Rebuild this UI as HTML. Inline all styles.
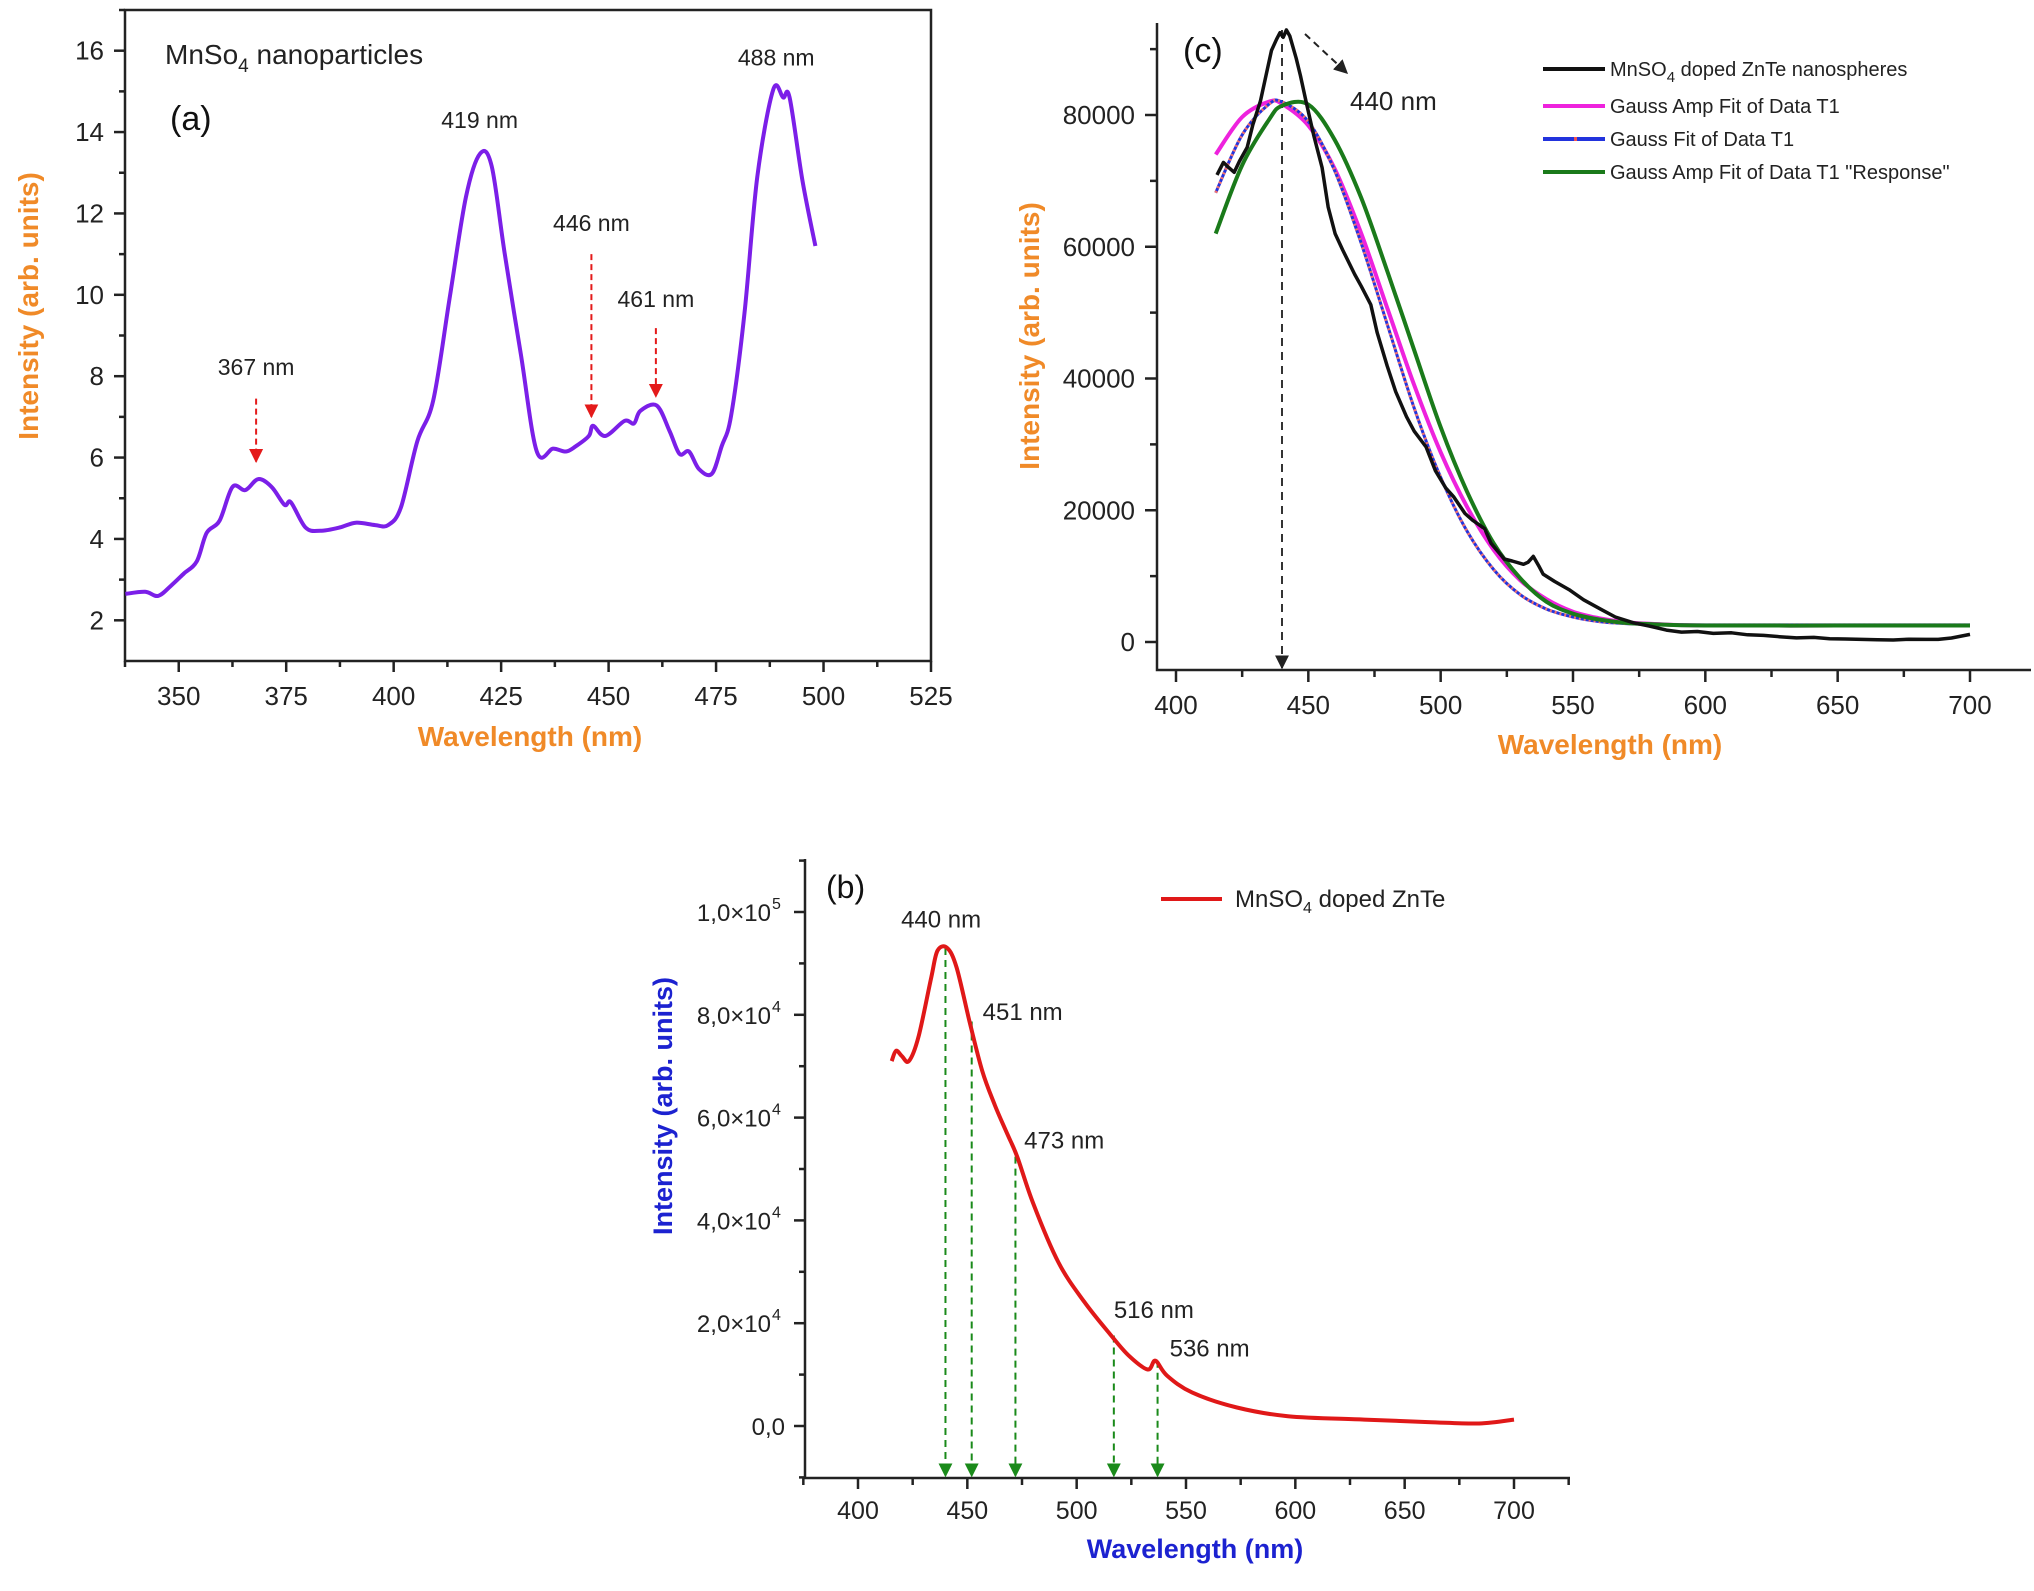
<!DOCTYPE html>
<html><head><meta charset="utf-8">
<style>
html,body{margin:0;padding:0;background:#fff;}
svg{display:block;font-family:"Liberation Sans",Arial,sans-serif;}
</style></head>
<body>
<svg id="fig" width="2034" height="1591" viewBox="0 0 2034 1591" xmlns="http://www.w3.org/2000/svg">
<rect width="2034" height="1591" fill="#fff"/>
<defs>
<marker id="arrRed" viewBox="0 0 10 10" refX="9" refY="5" markerWidth="7" markerHeight="9" orient="auto"><path d="M0,0 L10,5 L0,10 z" fill="#e41a1a"/></marker>
<marker id="arrGreen" viewBox="0 0 10 10" refX="9" refY="5" markerWidth="7" markerHeight="9" orient="auto"><path d="M0,0 L10,5 L0,10 z" fill="#1a8a1a"/></marker>
<marker id="arrBlack" viewBox="0 0 10 10" refX="9" refY="5" markerWidth="7" markerHeight="9" orient="auto"><path d="M0,0 L10,5 L0,10 z" fill="#222"/></marker>
</defs>
<g id="panelA"></g>
<g id="panelC"></g>
<g id="panelB"></g>
</svg>
<script>
// ---------- Panel (a) data ----------
const aWavelengths=[337.6,342.2,345.2,348.2,351.2,354.2,356.5,359.5,362.5,365.5,368.5,371.6,374.6,376.1,379.5,382.9,387.4,391.2,395.7,398.7,401.7,405.5,409.2,413,416.8,420.1,422.8,425.8,429.6,433.3,437.1,440.1,442.4,445.4,446.4,449.2,453.7,455.9,457.4,461.2,464.2,466.5,468.7,471,474,476.3,478.5,481.6,484.6,488.3,490.6,492.1,495.1,498.1];
const aIntensity=[2.65,2.7,2.6,2.85,3.15,3.45,4.15,4.45,5.28,5.2,5.47,5.28,4.84,4.9,4.28,4.2,4.28,4.4,4.34,4.34,4.78,6.4,7.4,9.9,12.4,13.47,13.16,11.03,8.53,6.15,6.22,6.15,6.28,6.53,6.78,6.53,6.9,6.84,7.15,7.28,6.65,6.09,6.15,5.72,5.6,6.28,7.03,9.53,12.9,15.04,14.85,14.85,12.8,11.2];
const aXTicks=[350,375,400,425,450,475,500,525];
const aYTicks=[2,4,6,8,10,12,14,16];
const aPeakLabels=["367 nm","419 nm","446 nm","461 nm","488 nm"];
const aPeakX=[368,420,446,461,489];
const aPeakY=[8.03,14.1,11.57,9.7,15.63];
const aArrowPeaks=[368,446,461];
const aArrowTop=[7.45,11.0,9.18];
const aArrowBottom=[5.9,7.0,7.5];

// ---------- Panel (c) data ----------
const cDataX=[415.5,417.9,420,422,424,426.9,429,431.9,434,436.1,438,439.3,440.5,441.7,443,445.4,447,449.1,452,455.2,457.5,460.1,463,467.5,470,473.6,476,479.8,483,487.1,490,494.5,498,501.9,505,509.2,512,516.6,519,524,527,531.3,533,535,537,538.7,543,548.5,554,560.8,566,573,579,585.3,591,597,603,609.9,616,622,628,634.4,641,647,653,659,665,671,677,683.5,688,693,700];
const cDataY=[70900,72800,72000,71300,73000,75100,78500,82100,86000,89800,91500,92500,91800,92900,92000,88600,86000,82100,77000,72000,66000,62000,59500,55800,54000,51200,47000,41900,38000,34200,32000,29600,26000,23400,22000,19500,18500,17200,15000,12600,12300,11800,12100,13000,11600,10300,9200,7950,6400,4900,3800,2900,2400,1800,1500,1600,1300,1400,1100,1000,800,620,700,500,450,390,350,300,420,390,400,600,1160];
const cFitX=[415,425,435,440,450,460,470,480,490,500,510,520,530,540,550,560,570,580,600,650,700];
const cMagentaY=[74000,79700,82000,81700,78400,71800,62000,50500,39000,28800,20500,14000,9400,6500,4600,3600,3000,2750,2500,2500,2500];
const cBlueY=[68200,77000,81600,82000,79000,71500,60500,48000,35500,25000,16800,11000,7200,5000,3800,3100,2800,2650,2600,2600,2600];
const cGreenY=[62000,72400,79200,81400,81600,76200,67400,56100,44300,32600,22800,15000,9700,6100,4300,3400,2900,2700,2500,2500,2500];
const cXTicks=[400,450,500,550,600,650,700];
const cYTicks=[0,20000,40000,60000,80000];
const cLegend=["MnSO4 doped ZnTe nanospheres","Gauss Amp Fit of Data T1","Gauss Fit of Data T1","Gauss Amp Fit of Data T1 \"Response\""];

// ---------- Panel (b) data ----------
const bDataX=[415.4,417.4,420,423.3,427.7,433.5,436.4,440.8,445.1,451,456.8,462.6,468.4,472.8,480.1,491.7,503.4,515,523.8,532.5,536,541.3,552.9,573.3,596.6,631.5,660.7,684,700];
const bDataY=[71000,73000,72000,71000,75800,87300,92500,93000,89200,78700,69100,62400,56700,52400,43300,31800,24200,18000,13700,11000,12700,9800,6500,3600,1900,1240,760,480,1240];
const bXTicks=[400,450,500,550,600,650,700];
const bYTicks=[0,20000,40000,60000,80000,100000];
const bYLabels=["0,0","2,0×10","4,0×10","6,0×10","8,0×10","1,0×10"];
const bYExp=["","4","4","4","4","5"];
const bPeaks=[440,452,472,517,537];
const bPeakVals=[93000,78700,52400,17600,12700];
const bPeakLabels=["440 nm","451 nm","473 nm","516 nm","536 nm"];
const bLabelX=[419.7,457,476,517,542.5];
const bLabelY=[97000,79000,54000,21000,13500];

const NS="http://www.w3.org/2000/svg";
function mk(parent,tag,attrs){const e=document.createElementNS(NS,tag);for(const k in attrs)e.setAttribute(k,attrs[k]);parent.appendChild(e);return e;}
function lin(d0,d1,r0,r1){return v=>r0+(v-d0)/(d1-d0)*(r1-r0);}
function smoothPath(xs,ys,sx,sy){
  const p=xs.map((x,i)=>[sx(x),sy(ys[i])]);
  let d="M"+p[0][0].toFixed(1)+","+p[0][1].toFixed(1);
  for(let i=0;i<p.length-1;i++){
    const p0=p[Math.max(0,i-1)],p1=p[i],p2=p[i+1],p3=p[Math.min(p.length-1,i+2)];
    const c1=[p1[0]+(p2[0]-p0[0])/6,p1[1]+(p2[1]-p0[1])/6];
    const c2=[p2[0]-(p3[0]-p1[0])/6,p2[1]-(p3[1]-p1[1])/6];
    d+=" C"+c1[0].toFixed(1)+","+c1[1].toFixed(1)+" "+c2[0].toFixed(1)+","+c2[1].toFixed(1)+" "+p2[0].toFixed(1)+","+p2[1].toFixed(1);
  }
  return d;
}
function polyPath(xs,ys,sx,sy){return xs.map((x,i)=>(i?"L":"M")+sx(x).toFixed(1)+","+sy(ys[i]).toFixed(1)).join(" ");}
const ORANGE="#f08a28", BLUEB="#1c22d0";

// ================= Panel A =================
(function(){
  const g=document.getElementById('panelA');
  const sx=lin(337.5,525,125,931), sy=lin(1,17,661,10);
  let e=mk(g,'rect',{x:125,y:10,width:806,height:651,fill:'none',stroke:'#222','stroke-width':2.5});
  
  aXTicks.forEach(t=>{
    const x=sx(t);
    let l=mk(g,'line',{x1:x,y1:661,x2:x,y2:672,stroke:'#222','stroke-width':2.5});
    
    let m=mk(g,'line',{x1:sx(t-12.5),y1:661,x2:sx(t-12.5),y2:667,stroke:'#222','stroke-width':2.5});
    
    let tx=mk(g,'text',{x:x,y:705,'font-size':26,'text-anchor':'middle',fill:'#222'});tx.textContent=t;
    
  });
  aYTicks.forEach(t=>{
    const y=sy(t);
    let l=mk(g,'line',{x1:114,y1:y,x2:125,y2:y,stroke:'#222','stroke-width':2.5});
    
    let m=mk(g,'line',{x1:119,y1:sy(t+1),x2:125,y2:sy(t+1),stroke:'#222','stroke-width':2.5});
    
    let tx=mk(g,'text',{x:104,y:y+9,'font-size':26,'text-anchor':'end',fill:'#222'});tx.textContent=t;
    
  });
  let p=mk(g,'path',{d:smoothPath(aWavelengths,aIntensity,sx,sy),fill:'none',stroke:'#7b1fe8','stroke-width':4,'stroke-linejoin':'round'});
  
  aArrowPeaks.forEach((w,i)=>{
    let a=mk(g,'line',{x1:sx(w),y1:sy(aArrowTop[i]),x2:sx(w),y2:sy(aArrowBottom[i]),stroke:'#e41a1a','stroke-width':2,'stroke-dasharray':'6,4','marker-end':'url(#arrRed)'});
    
  });
  aPeakLabels.forEach((s,i)=>{
    let t=mk(g,'text',{x:sx(aPeakX[i]),y:sy(aPeakY[i]),'font-size':23,'text-anchor':'middle',fill:'#222'});t.textContent=s;
    
  });
  let t1=mk(g,'text',{x:165,y:64,'font-size':28,fill:'#222'});
  t1.innerHTML='MnSo<tspan font-size="19" dy="8">4</tspan><tspan dy="-8"> nanoparticles</tspan>';
  
  let t2=mk(g,'text',{x:170,y:130,'font-size':34,fill:'#111'});t2.textContent='(a)';
  
  let xt=mk(g,'text',{x:530,y:746,'font-size':28,'font-weight':'bold','text-anchor':'middle',fill:ORANGE});xt.textContent='Wavelength (nm)';
  
  let yt=mk(g,'text',{x:0,y:0,'font-size':28,'font-weight':'bold','text-anchor':'middle',fill:ORANGE,transform:'translate(38,306) rotate(-90)'});yt.textContent='Intensity (arb. units)';
  
})();

// ================= Panel C =================
(function(){
  const g=document.getElementById('panelC');
  const sx=lin(400,700,1176,1970), sy=lin(0,80000,642,115);
  let ax=mk(g,'path',{d:'M1157,23 L1157,670 L2031,670',fill:'none',stroke:'#222','stroke-width':2.5});
  
  cXTicks.forEach(t=>{
    const x=sx(t);
    let l=mk(g,'line',{x1:x,y1:670,x2:x,y2:682,stroke:'#222','stroke-width':2.5});
    
    let m=mk(g,'line',{x1:sx(t+25),y1:670,x2:sx(t+25),y2:677,stroke:'#222','stroke-width':2.5});
    
    let tx=mk(g,'text',{x:x,y:714,'font-size':26,'text-anchor':'middle',fill:'#222'});tx.textContent=t;
    
  });
  cYTicks.forEach(t=>{
    const y=sy(t);
    let l=mk(g,'line',{x1:1145,y1:y,x2:1157,y2:y,stroke:'#222','stroke-width':2.5});
    
    let m=mk(g,'line',{x1:1150,y1:sy(t+10000),x2:1157,y2:sy(t+10000),stroke:'#222','stroke-width':2.5});
    
    let tx=mk(g,'text',{x:1135,y:y+9,'font-size':26,'text-anchor':'end',fill:'#222'});tx.textContent=t;
    
  });
  let vl=mk(g,'line',{x1:1282,y1:30,x2:1282,y2:668,stroke:'#333','stroke-width':2,'stroke-dasharray':'8,6','marker-end':'url(#arrBlack)'});
  
  let pm=mk(g,'path',{d:smoothPath(cFitX,cMagentaY,sx,sy),fill:'none',stroke:'#ee22dd','stroke-width':4});
  
  let pb=mk(g,'path',{d:smoothPath(cFitX,cBlueY,sx,sy),fill:'none',stroke:'#2233dd','stroke-width':3});
  
  let pr=mk(g,'path',{d:smoothPath(cFitX,cBlueY,sx,sy),fill:'none',stroke:'#f07070','stroke-width':3,'stroke-dasharray':'2,3'});
  
  let pg=mk(g,'path',{d:smoothPath(cFitX,cGreenY,sx,sy),fill:'none',stroke:'#1a7a1a','stroke-width':4});
  
  let pk=mk(g,'path',{d:polyPath(cDataX,cDataY,sx,sy),fill:'none',stroke:'#111','stroke-width':3.5,'stroke-linejoin':'round'});
  
  let da=mk(g,'line',{x1:1305,y1:34,x2:1347,y2:73,stroke:'#222','stroke-width':2,'stroke-dasharray':'7,5','marker-end':'url(#arrBlack)'});
  
  let pl=mk(g,'text',{x:1350,y:110,'font-size':26,fill:'#222'});pl.textContent='440 nm';
  
  let lb=mk(g,'text',{x:1183,y:62,'font-size':34,fill:'#111'});lb.textContent='(c)';
  
  const legColors=['#111','#ee22dd','#2233dd','#1a7a1a'];
  const legY=[69,106,139,172];
  cLegend.forEach((s,i)=>{
    let l=mk(g,'line',{x1:1543,y1:legY[i],x2:1605,y2:legY[i],stroke:legColors[i],'stroke-width':4});
    
    let t=mk(g,'text',{x:1610,y:legY[i]+7,'font-size':20,fill:'#222'});
    if(i===0){t.innerHTML='MnSO<tspan font-size="15" dy="6">4</tspan><tspan dy="-6"> doped ZnTe nanospheres</tspan>';}
    else t.textContent=s;
    
  });
  let rd=mk(g,'line',{x1:1574,y1:139,x2:1577,y2:139,stroke:'#f05050','stroke-width':4});
  
  let xt=mk(g,'text',{x:1610,y:754,'font-size':28,'font-weight':'bold','text-anchor':'middle',fill:ORANGE});xt.textContent='Wavelength (nm)';
  
  let yt=mk(g,'text',{x:0,y:0,'font-size':28,'font-weight':'bold','text-anchor':'middle',fill:ORANGE,transform:'translate(1039,336) rotate(-90)'});yt.textContent='Intensity (arb. units)';
  
})();

// ================= Panel B =================
(function(){
  const g=document.getElementById('panelB');
  const sx=lin(400,700,858,1514), sy=lin(0,100000,1426,912);
  let ax=mk(g,'path',{d:'M805,859 L805,1478 L1570,1478',fill:'none',stroke:'#222','stroke-width':2.5});
  
  bXTicks.forEach(t=>{
    const x=sx(t);
    let l=mk(g,'line',{x1:x,y1:1478,x2:x,y2:1489,stroke:'#222','stroke-width':2.5});
    
    let m=mk(g,'line',{x1:sx(t-25),y1:1478,x2:sx(t-25),y2:1485,stroke:'#222','stroke-width':2.5});
    
    let tx=mk(g,'text',{x:x,y:1519,'font-size':25,'text-anchor':'middle',fill:'#222'});tx.textContent=t;
    
  });
  let m2=mk(g,'line',{x1:sx(725),y1:1478,x2:sx(725),y2:1485,stroke:'#222','stroke-width':2.5});
  
  bYTicks.forEach((t,i)=>{
    const y=sy(t);
    let l=mk(g,'line',{x1:794,y1:y,x2:805,y2:y,stroke:'#222','stroke-width':2.5});
    
    let m=mk(g,'line',{x1:799,y1:sy(t+10000),x2:805,y2:sy(t+10000),stroke:'#222','stroke-width':2.5});
    
    let tx=mk(g,'text',{x:bYExp[i]?771:785,y:y+9,'font-size':24,'text-anchor':'end',fill:'#222'});tx.textContent=bYLabels[i];
    
    if(bYExp[i]){let ex=mk(g,'text',{x:772,y:y-3,'font-size':16,fill:'#222'});ex.textContent=bYExp[i];
      }
  });
  let m3=mk(g,'line',{x1:799,y1:sy(-10000),x2:805,y2:sy(-10000),stroke:'#222','stroke-width':2.5});
  
  bPeaks.forEach((w,i)=>{
    let a=mk(g,'line',{x1:sx(w),y1:sy(bPeakVals[i]),x2:sx(w),y2:1476,stroke:'#1a8a1a','stroke-width':2,'stroke-dasharray':'7,5','marker-end':'url(#arrGreen)'});
    
  });
  let p=mk(g,'path',{d:smoothPath(bDataX,bDataY,sx,sy),fill:'none',stroke:'#e01818','stroke-width':4,'stroke-linejoin':'round'});
  
  bPeakLabels.forEach((s,i)=>{
    let t=mk(g,'text',{x:sx(bLabelX[i]),y:sy(bLabelY[i]),'font-size':24,fill:'#222'});t.textContent=s;
    
  });
  let lb=mk(g,'text',{x:826,y:898,'font-size':32,fill:'#111'});lb.textContent='(b)';
  
  let ll=mk(g,'line',{x1:1161,y1:899,x2:1222,y2:899,stroke:'#e01818','stroke-width':4});
  
  let lt=mk(g,'text',{x:1235,y:907,'font-size':24,fill:'#222'});
  lt.innerHTML='MnSO<tspan font-size="16" dy="6">4</tspan><tspan dy="-6"> doped ZnTe</tspan>';
  
  let xt=mk(g,'text',{x:1195,y:1558,'font-size':27,'font-weight':'bold','text-anchor':'middle',fill:BLUEB});xt.textContent='Wavelength (nm)';
  
  let yt=mk(g,'text',{x:0,y:0,'font-size':27,'font-weight':'bold','text-anchor':'middle',fill:BLUEB,transform:'translate(672,1106) rotate(-90)'});yt.textContent='Intensity (arb. units)';
  
})();
</script>
</body></html>
